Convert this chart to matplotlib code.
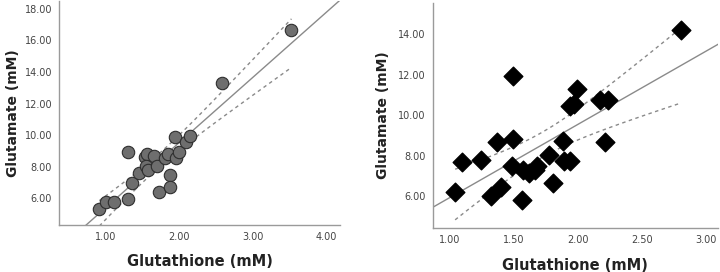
import numpy as np
import matplotlib.pyplot as plt

# left panel: circles
gsh_a = [0.91, 1.00, 1.11, 1.30, 1.30, 1.36, 1.45, 1.53, 1.56, 1.55, 1.57, 1.65, 1.70,
         1.72, 1.80, 1.85, 1.88, 1.88, 1.94, 1.96, 1.99, 2.09, 2.15, 2.58, 3.53]
glu_a = [5.31, 5.77, 5.77, 5.94, 8.93, 6.98, 7.61, 8.62, 8.83, 8.03, 7.82, 8.68, 8.05,
         6.38, 8.58, 8.79, 7.47, 6.73, 9.87, 8.53, 8.93, 9.56, 9.92, 13.27, 16.68]

# right panel: diamonds
gsh_b = [1.04, 1.09, 1.24, 1.32, 1.40, 1.37, 1.48, 1.49, 1.49, 1.56, 1.57, 1.62, 1.66,
         1.68, 1.77, 1.80, 1.88, 1.89, 1.94, 1.94, 1.97, 1.99, 2.17, 2.23, 2.21, 2.80]
glu_b = [6.21, 7.69, 7.80, 6.00, 6.46, 8.66, 7.52, 8.82, 11.93, 5.84, 7.28, 7.15, 7.28,
         7.48, 8.05, 6.66, 8.75, 7.77, 7.77, 10.43, 10.56, 11.28, 10.75, 10.75, 8.70, 14.20]

xticks_a = [1.0, 2.0, 3.0, 4.0]
yticks_a = [6, 8, 10, 12, 14, 16, 18]
xticks_b = [1.0, 1.5, 2.0, 2.5, 3.0]
yticks_b = [6, 8, 10, 12, 14]

T95 = 2.07


def fit_panel(ax, x, y, xlim):
    x = np.array(x)
    y = np.array(y)
    n = len(x)
    b, a = np.polyfit(x, y, 1)
    xs = np.linspace(xlim[0], xlim[1], 100)
    ax.plot(xs, a + b * xs, color='#8a8a8a', lw=1.0, zorder=1)
    res = y - (a + b * x)
    s = np.sqrt(np.sum(res ** 2) / (n - 2))
    sxx = np.sum((x - x.mean()) ** 2)
    xc = np.linspace(x.min(), x.max(), 100)
    se = s * np.sqrt(1.0 / n + (xc - x.mean()) ** 2 / sxx)
    yc = a + b * xc
    for sign in (1, -1):
        ax.plot(xc, yc + sign * T95 * se, color='#8a8a8a', lw=1.0,
                linestyle=(0, (2.5, 2.5)), zorder=1)


def style(ax, xticks, yticks, xlim, ylim, ypad):
    ax.set_xlim(*xlim)
    ax.set_ylim(*ylim)
    ax.set_xticks(xticks)
    ax.set_yticks(yticks)
    ax.set_xticklabels(['%.2f' % v for v in xticks])
    ax.set_yticklabels(['%.2f' % v for v in yticks])
    for sp in ['top', 'right']:
        ax.spines[sp].set_visible(False)
    for sp in ['left', 'bottom']:
        ax.spines[sp].set_color('#9a9a9a')
        ax.spines[sp].set_linewidth(1.0)
    ax.tick_params(length=0, labelsize=7, colors='#444444', pad=5)
    ax.set_xlabel('Glutathione (mM)', fontsize=10.5, fontweight='bold', color='#222222', labelpad=9)
    ax.set_ylabel('Glutamate (mM)', fontsize=10, fontweight='bold', color='#222222', labelpad=ypad)


fig = plt.figure(figsize=(7.2, 2.72), dpi=100)

xlim_a = (0.36, 4.19)
ylim_a = (4.32, 18.46)
ax1 = fig.add_axes([0.082, 0.173, 0.390, 0.822])
fit_panel(ax1, gsh_a, glu_a, xlim_a)
ax1.scatter(gsh_a, glu_a, s=80, color='#6e6e6e', edgecolors='#2e2e2e', linewidths=0.8, zorder=3)
style(ax1, xticks_a, yticks_a, xlim_a, ylim_a, 3)

xlim_b = (0.865, 3.09)
ylim_b = (4.44, 15.52)
ax2 = fig.add_axes([0.601, 0.161, 0.396, 0.828])
fit_panel(ax2, gsh_b, glu_b, xlim_b)
ax2.scatter(gsh_b, glu_b, s=90, marker='D', color='black', zorder=3)
style(ax2, xticks_b, yticks_b, xlim_b, ylim_b, 6)

fig.savefig('out.png', dpi=100)
